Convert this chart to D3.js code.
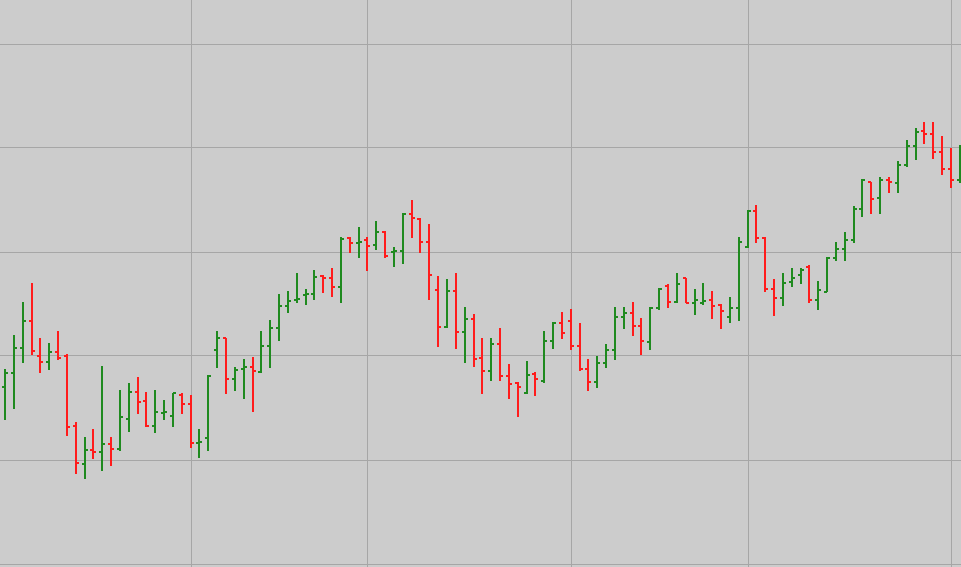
<!DOCTYPE html>
<html>
<head>
<meta charset="utf-8">
<script src="https://cdn.jsdelivr.net/npm/d3@7"></script>
<style>
html,body{margin:0;padding:0;background:#cccccc;overflow:hidden;}
svg{display:block;}
</style>
</head>
<body>
<svg id="chart" width="961" height="567"></svg>
<script>
// Bar index (trading session) 0..108
const opens  = [16.97,18.32,20.72,23.32,19.95,19.38,20.34,19.95,13.22,9.57,10.91,10.72,11.49,11.01,13.89,16.49,15.63,13.22,14.47,14.18,16.20,15.34,11.59,12.07,20.53,21.68,17.74,18.70,18.89,18.41,20.91,22.64,24.76,25.34,25.82,25.91,27.64,27.45,26.59,31.30,30.82,31.11,30.63,31.88,29.95,30.05,33.61,33.13,30.91,26.30,22.74,26.20,22.26,23.51,19.76,18.51,21.11,18.03,17.36,16.39,18.22,17.55,21.39,23.13,23.32,20.91,18.70,17.45,19.28,20.53,23.70,24.09,22.84,21.30,24.57,26.68,25.14,27.45,25.05,25.05,25.34,24.86,23.70,24.57,30.43,33.89,31.30,26.39,25.53,27.07,27.74,28.51,25.34,26.11,29.38,30.24,31.11,34.09,36.68,35.14,36.88,36.59,38.32,40.14,41.59,41.30,39.57,37.93,36.88];
const highs  = [18.70,21.88,25.14,26.97,21.68,21.20,22.26,20.05,13.51,12.16,12.93,18.99,12.07,16.59,17.26,17.84,16.49,16.59,15.63,16.39,16.30,16.11,12.84,18.03,22.26,21.68,18.89,19.66,19.76,22.26,23.32,25.91,26.20,27.84,26.39,28.13,27.74,28.41,31.30,31.39,32.26,31.30,32.84,31.88,30.43,33.61,34.86,33.13,32.55,27.64,27.26,27.84,24.66,23.99,21.68,21.59,22.55,19.18,17.45,19.47,18.32,22.26,23.22,24.09,24.47,23.03,19.66,19.86,21.01,24.66,24.57,25.14,23.51,24.66,26.49,26.78,27.84,27.45,26.30,26.88,26.20,24.95,25.53,31.39,33.99,34.47,31.39,27.26,27.84,28.32,28.41,28.70,27.07,29.47,30.82,31.78,34.28,36.97,36.68,37.07,37.16,38.70,40.63,41.78,42.36,42.36,41.01,39.95,40.24];
const lows   = [13.89,14.95,19.28,20.05,18.32,18.61,19.57,12.26,8.70,8.22,10.14,8.99,9.47,10.91,12.74,14.47,13.13,12.64,13.80,13.13,14.47,11.20,10.24,10.91,18.89,16.30,16.59,15.91,14.57,18.32,18.89,21.49,24.09,25.14,24.86,25.43,26.01,25.72,25.14,29.86,29.38,28.13,30.24,29.38,28.51,28.89,31.30,29.86,25.34,20.82,22.74,20.63,19.28,18.99,16.39,17.64,17.55,15.91,14.09,16.30,16.11,17.36,20.63,21.59,20.53,18.51,16.68,16.97,18.89,19.66,22.55,21.88,20.14,20.53,24.38,24.66,25.05,25.05,23.99,24.86,23.51,22.55,23.13,23.41,30.43,30.91,26.11,23.80,24.76,26.68,26.88,25.05,24.47,26.11,29.18,29.18,30.82,33.32,33.61,33.70,35.63,35.63,38.13,38.80,40.34,38.99,37.45,36.11,36.68];
const closes = [18.32,20.72,23.32,20.43,19.38,20.34,19.76,13.13,9.66,10.91,10.72,11.49,11.01,14.09,16.49,15.53,13.22,14.57,14.57,16.39,15.34,11.59,11.68,18.03,21.68,17.74,18.61,18.89,18.51,20.91,22.64,24.76,25.24,25.43,25.91,27.55,27.45,26.59,31.20,30.82,30.91,30.53,31.88,29.57,30.05,33.61,33.22,30.91,27.74,22.74,26.20,22.26,23.51,19.66,18.51,21.11,18.03,17.26,16.97,18.13,17.74,21.39,23.13,22.16,20.91,18.70,17.45,19.28,20.53,23.70,24.09,22.84,21.39,24.57,26.39,25.14,26.88,25.05,25.34,25.24,24.76,24.28,24.57,30.91,33.89,31.30,26.39,25.53,26.97,27.45,28.22,25.34,26.30,29.38,30.24,31.11,34.09,36.88,35.05,36.88,36.68,38.32,40.14,41.49,41.30,39.57,37.93,36.88,39.76];

// Grid ticks
const priceTicks = [0, 10, 20, 30, 40, 50];
const gridBars = [21, 41, 64, 84, 107];

const W = 961, H = 567;
const svg = d3.select("#chart");

const x = d3.scaleLinear().domain([0, opens.length - 1]).range([5, 959.7]);
const y = d3.scaleLinear().domain([0, 50]).range([563.5, 43.5]);

const data = opens.map((o, i) => ({i, o, h: highs[i], l: lows[i], c: closes[i]}));

svg.append("rect").attr("width", W).attr("height", H).attr("fill", "#cccccc");

const grid = svg.append("g").attr("stroke", "#a6a6a6").attr("stroke-width", 1).attr("shape-rendering", "crispEdges");
grid.selectAll("line.h").data(priceTicks).join("line").attr("class", "h")
  .attr("x1", 0).attr("x2", W)
  .attr("y1", d => Math.round(y(d)) + 0.5).attr("y2", d => Math.round(y(d)) + 0.5);
grid.selectAll("line.v").data(gridBars).join("line").attr("class", "v")
  .attr("y1", 0).attr("y2", H)
  .attr("x1", d => Math.round(x(d)) + 0.5).attr("x2", d => Math.round(x(d)) + 0.5);

const color = d => d.c >= d.o ? "#1f8a1f" : "#ff1c1c";
const bars = svg.append("g").attr("shape-rendering", "crispEdges");
const g = bars.selectAll("g").data(data).join("g")
  .attr("stroke", color).attr("stroke-width", 2);
const px = d => Math.round(x(d.i));
g.append("line").attr("x1", px).attr("x2", px)
  .attr("y1", d => y(d.h) - 0.5).attr("y2", d => y(d.l) + 0.5);
g.append("line").attr("x1", d => px(d) - 3).attr("x2", px)
  .attr("y1", d => Math.round(y(d.o))).attr("y2", d => Math.round(y(d.o)));
g.append("line").attr("x1", px).attr("x2", d => px(d) + 3)
  .attr("y1", d => Math.round(y(d.c))).attr("y2", d => Math.round(y(d.c)));
</script>
</body>
</html>
